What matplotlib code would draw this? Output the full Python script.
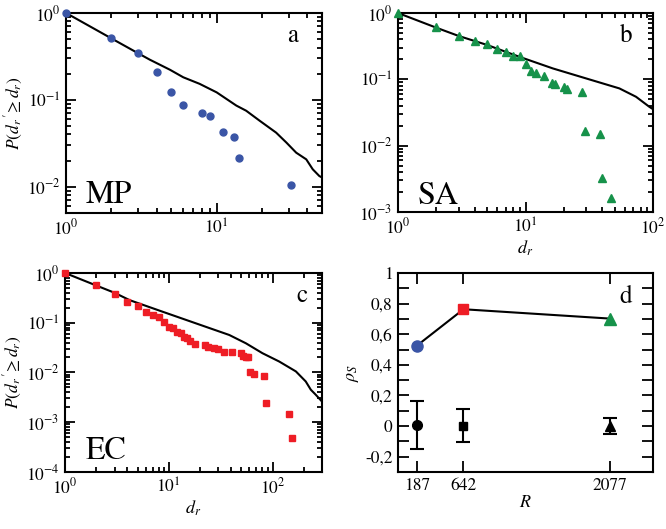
import numpy as np
import matplotlib
matplotlib.use('Agg')
import matplotlib.pyplot as plt
from matplotlib.ticker import LogLocator, NullFormatter, MultipleLocator

plt.rcParams['font.family'] = 'STIXGeneral'
plt.rcParams['mathtext.fontset'] = 'stix'

# MP
mp_x = [1, 2, 3, 4, 5, 6, 8, 9, 11, 13, 14, 31]
mp_y = [1.0, 0.51, 0.345, 0.212, 0.124, 0.087, 0.0706, 0.0645, 0.0432, 0.0376, 0.0215, 0.0106]
mp_nx = [1, 2, 3, 3.6, 4.9, 6, 7.7, 10, 13.5, 15.7, 19.3, 24.8, 29, 33.7, 39.3, 43.4, 48, 50]
mp_ny = [1.0, 0.51, 0.345, 0.29, 0.222, 0.182, 0.153, 0.122, 0.086, 0.075, 0.0575, 0.042, 0.0323,
         0.0247, 0.0207, 0.0159, 0.0133, 0.0128]

# SA
sa_x = [1, 2, 3, 4, 5, 6, 7, 8, 9, 10, 11, 12, 14, 16, 17, 20, 21, 27.5, 29.5, 38.5, 39.5, 47]
sa_y = [1.0, 0.62, 0.457, 0.38, 0.347, 0.288, 0.254, 0.224, 0.224, 0.17, 0.133, 0.126, 0.112,
        0.089, 0.085, 0.076, 0.072, 0.065, 0.0168, 0.015, 0.0033, 0.00164]
sa_nx = [1, 2, 3, 5, 7, 9, 16.4, 30, 54.5, 73.6, 93.5, 100]
sa_ny = [1.0, 0.6, 0.45, 0.33, 0.26, 0.218, 0.146, 0.103, 0.073, 0.0546, 0.0386, 0.0355]

# EC
ec_x = [1, 2, 3, 4, 5, 6, 7, 8, 9, 10, 11, 12, 13, 14, 15, 16, 18, 22.5, 24, 27, 29.5, 34, 41,
        49.5, 51.5, 55, 58, 60.5, 66.5, 83, 87, 145, 155]
ec_y = [1.0, 0.58, 0.374, 0.263, 0.213, 0.161, 0.142, 0.132, 0.102, 0.081, 0.077, 0.066, 0.061,
        0.0525, 0.0487, 0.043, 0.0365, 0.0358, 0.033, 0.0307, 0.0293, 0.0263, 0.0263, 0.0251,
        0.0216, 0.0209, 0.0209, 0.01, 0.0094, 0.0083, 0.0024, 0.00149, 0.00049]
ec_nx = [1, 2, 3, 4.2, 8.75, 18.3, 38.3, 55.4, 80, 116, 168, 209, 234, 260, 300]
ec_ny = [1.0, 0.56, 0.4, 0.284, 0.166, 0.097, 0.0567, 0.0386, 0.0244, 0.0166, 0.0105, 0.0066,
         0.0045, 0.0036, 0.0026]

# panel d
R = [187, 642, 2077]
rho = [0.526, 0.763, 0.702]
rho_null = [0.007, 0.002, 0.0]
rho_err = [0.155, 0.108, 0.05]
rho_ticks = [-0.2, 0, 0.2, 0.4, 0.6, 0.8, 1]
rho_labels = ['-0,2', '0', '0,2', '0,4', '0,6', '0,8', '1']

blue = '#3a55a6'
green = '#16924a'
red = '#ee1d25'

fig = plt.figure(figsize=(6.66, 5.29), dpi=100)
ax_a = fig.add_axes([0.0991, 0.5974, 0.3844, 0.3781])
ax_b = fig.add_axes([0.5976, 0.5992, 0.3829, 0.3762])
ax_c = fig.add_axes([0.0976, 0.1078, 0.3859, 0.3762])
ax_d = fig.add_axes([0.5976, 0.1078, 0.3829, 0.3762])


def style(ax):
    for s in ax.spines.values():
        s.set_linewidth(1.5)
    ax.tick_params(which='both', direction='in', top=True, right=True, labelsize=12.5, width=1.3)
    ax.tick_params(which='major', length=7, pad=4)
    ax.tick_params(which='minor', length=3.5)


def style_log(ax):
    ax.set_xscale('log')
    ax.set_yscale('log')
    ax.xaxis.set_major_locator(LogLocator(base=10, numticks=10))
    ax.yaxis.set_major_locator(LogLocator(base=10, numticks=10))
    ax.xaxis.set_minor_locator(LogLocator(base=10, subs=np.arange(2, 10), numticks=10))
    ax.yaxis.set_minor_locator(LogLocator(base=10, subs=np.arange(2, 10), numticks=10))
    ax.xaxis.set_minor_formatter(NullFormatter())
    ax.yaxis.set_minor_formatter(NullFormatter())
    style(ax)


ylab = r"$P(d_r\,'\!\geq d_r)$"

# a
ax_a.plot(mp_nx, mp_ny, 'k-', lw=1.5)
ax_a.plot(mp_x, mp_y, 'o', color=blue, ms=5, clip_on=False, zorder=3)
style_log(ax_a)
ax_a.set_xlim(1, 50)
ax_a.set_ylim(0.005, 1)
ax_a.set_ylabel(ylab, fontsize=12.5, labelpad=1)
ax_a.text(0.906, 0.855, 'a', transform=ax_a.transAxes, fontsize=18, ha='right', va='baseline')
ax_a.text(0.078, 0.05, 'MP', transform=ax_a.transAxes, fontsize=23, ha='left', va='baseline')

# b
ax_b.plot(sa_nx, sa_ny, 'k-', lw=1.5)
ax_b.plot(sa_x, sa_y, '^', color=green, ms=5.5, clip_on=False, zorder=3)
style_log(ax_b)
ax_b.set_xlim(1, 100)
ax_b.set_ylim(0.001, 1)
ax_b.set_xlabel(r'$d_r$', fontsize=13, labelpad=1)
ax_b.text(0.918, 0.855, 'b', transform=ax_b.transAxes, fontsize=18, ha='right', va='baseline')
ax_b.text(0.078, 0.04, 'SA', transform=ax_b.transAxes, fontsize=23, ha='left', va='baseline')

# c
ax_c.plot(ec_nx, ec_ny, 'k-', lw=1.5)
ax_c.plot(ec_x, ec_y, 's', color=red, ms=4.5, clip_on=False, zorder=3)
style_log(ax_c)
ax_c.set_xlim(1, 300)
ax_c.set_ylim(0.0001, 1)
ax_c.set_xlabel(r'$d_r$', fontsize=13, labelpad=1)
ax_c.set_ylabel(ylab, fontsize=12.5, labelpad=1)
ax_c.text(0.942, 0.854, 'c', transform=ax_c.transAxes, fontsize=18, ha='right', va='baseline')
ax_c.text(0.082, 0.065, 'EC', transform=ax_c.transAxes, fontsize=23, ha='left', va='baseline')

# d
ax_d.plot(R, rho, 'k-', lw=1.5, zorder=2)
ax_d.plot(R[0], rho[0], 'o', color=blue, ms=8, zorder=3)
ax_d.plot(R[1], rho[1], 's', color=red, ms=7, zorder=3)
ax_d.plot(R[2], rho[2], '^', color=green, ms=8, zorder=3)
for xi, yi, ei, m in zip(R, rho_null, rho_err, ['o', 's', '^']):
    ax_d.errorbar(xi, yi, yerr=ei, fmt=m, color='k', ms=7 if m != 's' else 6,
                  capsize=4.7, elinewidth=1.5, capthick=1.5)
ax_d.set_xlim(0, 2500)
ax_d.set_ylim(-0.3, 1)
ax_d.set_xticks(R)
ax_d.set_xticklabels([str(r) for r in R])
ax_d.set_yticks(rho_ticks)
ax_d.set_yticklabels(rho_labels)
ax_d.yaxis.set_minor_locator(MultipleLocator(0.1))
style(ax_d)
ax_d.tick_params(which='both', length=8)
ax_d.set_xlabel(r'$R$', fontsize=13, labelpad=1)
ax_d.set_ylabel(r'$\rho_S$', fontsize=13, labelpad=3)
ax_d.text(0.918, 0.85, 'd', transform=ax_d.transAxes, fontsize=18, ha='right', va='baseline')

fig.savefig('out.png', dpi=100)
